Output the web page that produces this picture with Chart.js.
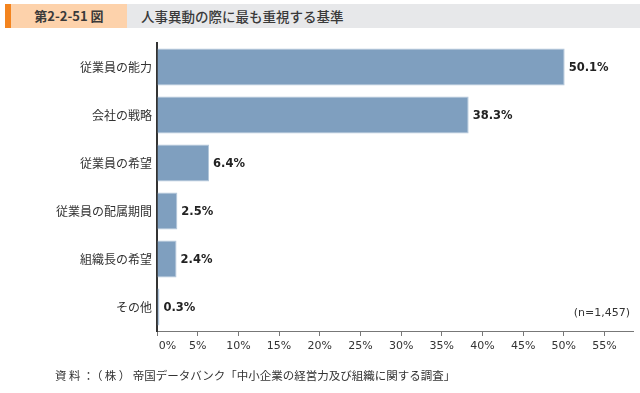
<!DOCTYPE html>
<html><head><meta charset="utf-8">
<script src="https://cdn.jsdelivr.net/npm/chart.js@4"></script>
<style>
html,body{margin:0;padding:0;background:#fff;width:640px;height:393px;overflow:hidden;}
#wrap{position:absolute;left:0;top:0;width:640px;height:393px;}
.t1{position:absolute;left:5px;top:4px;width:6px;height:24px;background:#F3841F;}
.t2{position:absolute;left:11px;top:4px;width:116px;height:24px;background:#FDD2AB;font:bold 13px "Noto Sans CJK JP","DejaVu Sans";color:#3a3a3a;line-height:24px;text-align:center;}
.t3{position:absolute;left:127px;top:4px;width:513px;height:24px;background:#E7E8EA;font:500 13.5px "Noto Sans CJK JP";color:#3a3a3a;line-height:24px;padding-left:14px;box-sizing:border-box;}
.src{position:absolute;left:55px;top:367px;font:11.5px "Noto Sans CJK JP";color:#333;white-space:nowrap;}
.src .p{letter-spacing:2.4px;}
.n{position:absolute;right:10px;top:306px;font:11px "DejaVu Sans";color:#333;}
</style></head>
<body>
<div class="t1"></div><div class="t2">第2-2-51 図</div><div class="t3">人事異動の際に最も重視する基準</div>
<div id="wrap"><canvas id="c" width="640" height="393"></canvas></div>
<div class="n">(n=1,457)</div>
<div class="src"><span class="p">資料：（株）</span>帝国データバンク「中小企業の経営力及び組織に関する調査」</div>
<script>
const categories = ["従業員の能力","会社の戦略","従業員の希望","従業員の配属期間","組織長の希望","その他"];
const values = [50.1, 38.3, 6.4, 2.5, 2.4, 0.3];
const tickValues = [0,5,10,15,20,25,30,35,40,45,50,55];

const labelPlugin = {
  id:'valueLabels',
  afterDatasetsDraw(chart){
    const ctx = chart.ctx;
    const meta = chart.getDatasetMeta(0);
    ctx.save();
    ctx.font = 'bold 11.5px "DejaVu Sans"';
    ctx.fillStyle = '#222';
    ctx.textAlign = 'left';
    ctx.textBaseline = 'middle';
    meta.data.forEach((bar,i)=>{
      ctx.fillText(values[i].toFixed(1)+'%', bar.x + 4, bar.y + 1);
    });
    ctx.restore();
  }
};

new Chart(document.getElementById('c'), {
  type:'bar',
  data:{labels:categories, datasets:[{data:values, backgroundColor:'#7F9FBF', borderColor:'#B3C6DA', borderWidth:1, barPercentage:0.77, categoryPercentage:1}]},
  options:{
    indexAxis:'y', responsive:false, animation:false,
    layout:{padding:{top:43,right:7,left:0,bottom:0}},
    plugins:{legend:{display:false}, tooltip:{enabled:false}},
    scales:{
      x:{
        min:0, max:58.5,
        afterBuildTicks(s){ s.ticks = tickValues.map(v=>({value:v})); },
        afterFit(s){ s.height = 62; },
        grid:{drawOnChartArea:false, drawTicks:true, tickLength:5, color:'#777'},
        border:{display:true, color:'#777', width:1},
        ticks:{padding:4, maxRotation:0, autoSkip:false, color:'#333', font:{family:'"DejaVu Sans"', size:11},
          callback:(v)=> v===0 ? '\u2007\u2007\u20070%' : v+'%'}
      },
      y:{
        afterFit(s){ s.width = 157; },
        grid:{display:false, drawTicks:false},
        border:{display:true, color:'#333', width:2},
        ticks:{padding:5, color:'#333', font:{family:'"Noto Sans CJK JP"', size:12}}
      }
    }
  },
  plugins:[labelPlugin]
});
</script>
</body></html>
